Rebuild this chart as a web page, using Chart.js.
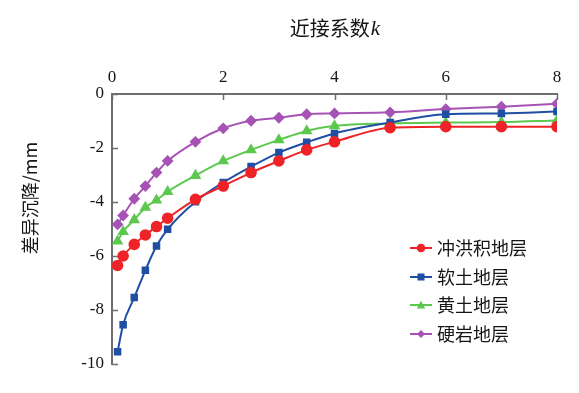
<!DOCTYPE html>
<html>
<head>
<meta charset="utf-8">
<script src="https://cdn.jsdelivr.net/npm/chart.js@4/dist/chart.umd.min.js"></script>
<style>
  html, body { margin: 0; padding: 0; background: #fff; }
  #wrap { width: 579px; height: 393px; position: relative; }
</style>
</head>
<body>
<div id="wrap"><canvas id="c" width="579" height="393"></canvas></div>
<script>
// ---- data ----
const kValues = [0.1, 0.2, 0.4, 0.6, 0.8, 1.0, 1.5, 2, 2.5, 3, 3.5, 4, 5, 6, 7, 8];
const seriesNames = ['冲洪积地层', '软土地层', '黄土地层', '硬岩地层'];
const alluvial = [-6.35, -6.0, -5.57, -5.22, -4.91, -4.6, -3.9, -3.41, -2.91, -2.48, -2.07, -1.77, -1.25, -1.21, -1.21, -1.21];
const softSoil = [-9.55, -8.55, -7.54, -6.53, -5.63, -5.01, -3.99, -3.28, -2.69, -2.17, -1.79, -1.46, -1.06, -0.75, -0.72, -0.65];
const loess    = [-5.45, -5.1, -4.66, -4.2, -3.93, -3.62, -3.02, -2.48, -2.07, -1.7, -1.37, -1.18, -1.09, -1.06, -1.04, -0.98];
const hardRock = [-4.83, -4.5, -3.88, -3.41, -2.91, -2.48, -1.77, -1.27, -0.99, -0.88, -0.75, -0.72, -0.68, -0.56, -0.47, -0.36];
const xTicks = [0, 2, 4, 6, 8];
const yTicks = [0, -2, -4, -6, -8, -10];
const xTitleMain = '近接系数';
const xTitleVar = 'k';
const yTitle = '差异沉降/mm';

const colors = ['#ee2328', '#1f4ea3', '#5cc84e', '#a653b5'];
const markers = ['circle', 'rect', 'triangle', 'rectRot'];
const radii = [4.8, 3.9, 4.7, 4.5];
const allSeries = [alluvial, softSoil, loess, hardRock];

const datasets = allSeries.map((vals, i) => ({
  label: seriesNames[i],
  data: kValues.map((k, j) => ({ x: k, y: vals[j] })),
  borderColor: colors[i],
  backgroundColor: colors[i],
  pointBackgroundColor: colors[i],
  pointBorderColor: colors[i],
  pointStyle: markers[i],
  pointRadius: radii[i],
  borderWidth: 2,
  cubicInterpolationMode: 'monotone',
  fill: false
}));

const AXIS_COLOR = '#6e6e6e';
const TEXT_COLOR = '#151515';
const TICK_FONT = { family: '"Liberation Serif", "Times New Roman", serif', size: 17 };
const CJK = '"Noto Sans CJK SC", "Noto Sans", sans-serif';

function drawMarker(ctx, style, x, y, r, color) {
  ctx.save();
  ctx.fillStyle = color;
  ctx.beginPath();
  if (style === 'circle') {
    ctx.arc(x, y, r, 0, Math.PI * 2);
  } else if (style === 'rect') {
    ctx.rect(x - r, y - r, 2 * r, 2 * r);
  } else if (style === 'triangle') {
    ctx.moveTo(x, y - r);
    ctx.lineTo(x + r, y + r * 0.8);
    ctx.lineTo(x - r, y + r * 0.8);
    ctx.closePath();
  } else {
    ctx.moveTo(x, y - r); ctx.lineTo(x + r, y); ctx.lineTo(x, y + r); ctx.lineTo(x - r, y); ctx.closePath();
  }
  ctx.fill();
  ctx.restore();
}

const decorPlugin = {
  id: 'decor',
  afterDraw(chart) {
    const ctx = chart.ctx;
    const xs = chart.scales.x, ys = chart.scales.y;
    const area = chart.chartArea;
    ctx.save();
    // inward ticks
    ctx.strokeStyle = AXIS_COLOR;
    ctx.lineWidth = 1.5;
    xTicks.forEach(v => {
      const px = Math.round(xs.getPixelForValue(v)) + 0.5;
      ctx.beginPath(); ctx.moveTo(px, area.top); ctx.lineTo(px, area.top + 6); ctx.stroke();
    });
    yTicks.forEach(v => {
      const py = Math.round(ys.getPixelForValue(v)) + 0.5;
      ctx.beginPath(); ctx.moveTo(area.left, py); ctx.lineTo(area.left + 6, py); ctx.stroke();
    });
    // top title with italic k
    ctx.fillStyle = TEXT_COLOR;
    ctx.textBaseline = 'middle';
    ctx.font = '20px ' + CJK;
    const w1 = ctx.measureText(xTitleMain).width;
    ctx.font = 'italic 21px "Liberation Serif", serif';
    const w2 = ctx.measureText(xTitleVar).width;
    const cx = (area.left + area.right) / 2;
    let tx = cx - (w1 + w2) / 2;
    ctx.textAlign = 'left';
    ctx.font = '20px ' + CJK;
    ctx.fillText(xTitleMain, tx, 28);
    ctx.font = 'italic 21px "Liberation Serif", serif';
    ctx.fillText(xTitleVar, tx + w1 + 1, 29);
    // y title rotated
    ctx.save();
    ctx.translate(30, 198);
    ctx.rotate(-Math.PI / 2);
    ctx.textAlign = 'center';
    ctx.font = '18px ' + CJK;
    ctx.fillText(yTitle, 0, 0);
    ctx.restore();
    // legend
    const lx0 = 410, lx1 = 432, textX = 437;
    const ly = [248, 277, 305, 334];
    chart.data.datasets.forEach((ds, i) => {
      const y = ly[i];
      ctx.strokeStyle = ds.borderColor;
      ctx.lineWidth = 2;
      ctx.beginPath(); ctx.moveTo(lx0, y); ctx.lineTo(lx1, y); ctx.stroke();
      drawMarker(ctx, ds.pointStyle, (lx0 + lx1) / 2, y, ds.pointRadius * 0.9, ds.borderColor);
      ctx.fillStyle = TEXT_COLOR;
      ctx.font = '18px ' + CJK;
      ctx.textAlign = 'left';
      ctx.textBaseline = 'middle';
      ctx.fillText(ds.label, textX, y);
    });
    ctx.restore();
  }
};

new Chart(document.getElementById('c'), {
  type: 'line',
  data: { datasets },
  options: {
    responsive: false,
    animation: false,
    devicePixelRatio: 1,
    layout: { padding: { left: 0, right: 22, top: 64, bottom: 29 } },
    plugins: { legend: { display: false }, tooltip: { enabled: false }, title: { display: false } },
    scales: {
      x: {
        type: 'linear',
        position: 'top',
        min: 0, max: 8,
        afterBuildTicks: s => { s.ticks = xTicks.map(v => ({ value: v })); },
        afterFit: s => { s.height = 30; },
        grid: { display: true, drawOnChartArea: false, drawTicks: false, color: 'rgba(0,0,0,0)' },
        border: { display: true, color: AXIS_COLOR, width: 2 },
        ticks: { font: TICK_FONT, color: TEXT_COLOR, padding: 6, maxRotation: 0 }
      },
      y: {
        type: 'linear',
        min: -10, max: 0,
        afterBuildTicks: s => { s.ticks = yTicks.map(v => ({ value: v })); },
        afterFit: s => { s.width = 112; },
        grid: { display: true, drawOnChartArea: false, drawTicks: false, color: 'rgba(0,0,0,0)' },
        border: { display: true, color: AXIS_COLOR, width: 2 },
        ticks: { font: TICK_FONT, color: TEXT_COLOR, padding: 8 }
      }
    }
  },
  plugins: [decorPlugin]
});
</script>
</body>
</html>
